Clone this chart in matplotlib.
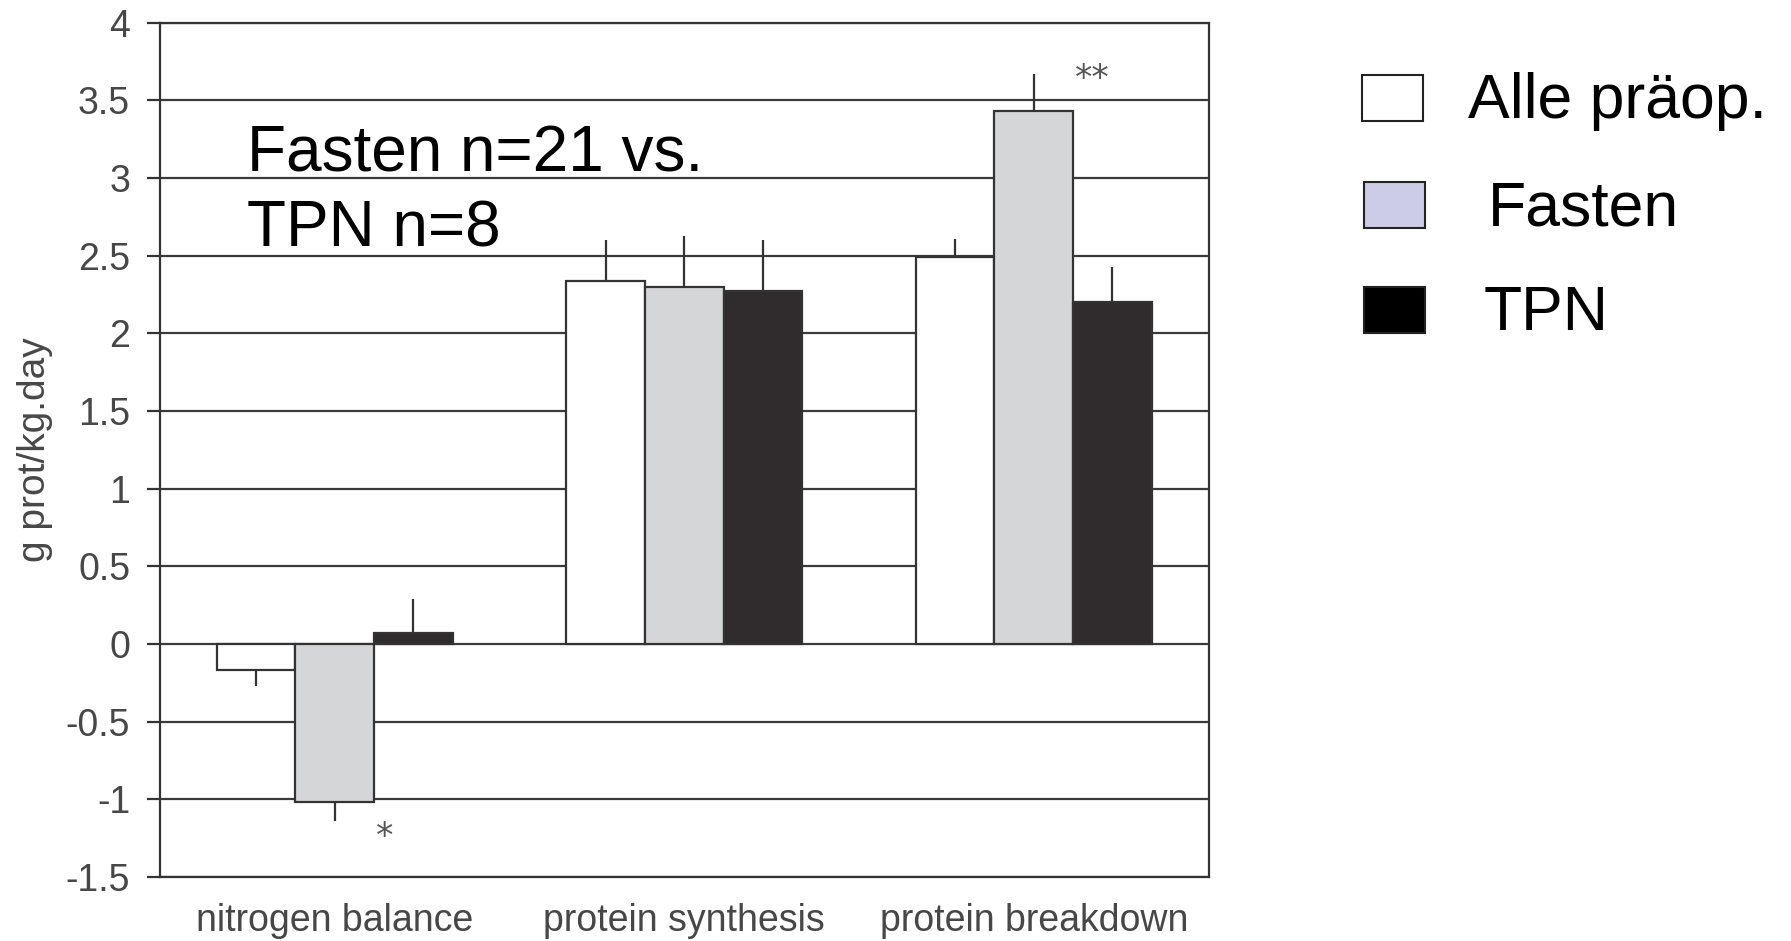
import matplotlib
matplotlib.use("Agg")
import matplotlib.pyplot as plt
import numpy as np
from matplotlib.patches import Rectangle

plt.rcParams["font.family"] = ["Liberation Sans", "DejaVu Sans"]

# ------------------------------------------------------------------ #
# Data
# ------------------------------------------------------------------ #
categories = ["nitrogen balance", "protein synthesis", "protein breakdown"]
groups = ["Alle präop.", "Fasten", "TPN"]

alle_mean = [-0.17, 2.34, 2.49]
alle_err = [0.10, 0.26, 0.12]
fasten_mean = [-1.02, 2.30, 3.43]
fasten_err = [0.12, 0.33, 0.24]
tpn_mean = [0.07, 2.27, 2.20]
tpn_err = [0.22, 0.33, 0.23]

# significance marks for the Fasten bar in each category
fasten_sig = ["*", "", "**"]

ytick_values = [-1.5, -1, -0.5, 0, 0.5, 1, 1.5, 2, 2.5, 3, 3.5, 4]
ytick_labels = ["-1.5", "-1", "-0.5", "0", "0.5", "1", "1.5", "2", "2.5", "3", "3.5", "4"]

note_lines = ["Fasten n=21 vs.", "TPN n=8"]
ylabel = "g prot/kg.day"

# ------------------------------------------------------------------ #
# Styling
# ------------------------------------------------------------------ #
bar_colors = ["#ffffff", "#d5d6d8", "#302c2d"]
legend_colors = ["#ffffff", "#cccce6", "#000000"]
edge = "#333333"
text_grey = "#474747"
W, H = 1791, 941

fig = plt.figure(figsize=(W / 100, H / 100), dpi=100)
ax = fig.add_axes([160 / W, 1 - 877 / H, 1048.5 / W, (877 - 22.8) / H])

x = np.arange(len(categories))
width = 0.225
series = [(alle_mean, alle_err), (fasten_mean, fasten_err), (tpn_mean, tpn_err)]

for k, (means, errs) in enumerate(series):
    means = np.array(means)
    errs = np.array(errs)
    xpos = x + (k - 1) * width
    ax.bar(xpos, means, width=width, color=bar_colors[k], edgecolor=edge,
           linewidth=1.6, zorder=3)
    # error bars point away from zero, no caps
    lower = np.where(means < 0, errs, 0)
    upper = np.where(means >= 0, errs, 0)
    ax.errorbar(xpos, means, yerr=[lower, upper], fmt="none", ecolor=edge,
                elinewidth=1.6, capsize=0, zorder=4)

# stars just right of the Fasten bars, at the end of the error bar
for i, mark in enumerate(fasten_sig):
    if not mark:
        continue
    m, e = fasten_mean[i], fasten_err[i]
    yy = m - e - 0.10 if m < 0 else m + e - 0.035
    ax.text(x[i] + width / 2 + 0.005, yy, mark, ha="left", va="center",
            fontsize=25, color="#555555", family="DejaVu Sans")

ax.set_xlim(-0.5, 2.5)
ax.set_ylim(-1.5, 4)
ax.set_yticks(ytick_values)
ax.set_yticklabels(ytick_labels)
ax.set_xticks(x)
ax.set_xticklabels(categories)

ax.yaxis.grid(True, color="#3a3a3a", linewidth=1.6)
ax.set_axisbelow(True)
for sp in ax.spines.values():
    sp.set_color(edge)
    sp.set_linewidth(1.6)

ax.tick_params(axis="y", length=9.5, width=1.6, color=edge, pad=12,
               labelsize=27, labelcolor=text_grey)
ax.tick_params(axis="x", length=0, pad=19, labelsize=27, labelcolor=text_grey)

ax.set_ylabel(ylabel, fontsize=28, color=text_grey)
ax.yaxis.set_label_coords(-0.102, 0.5)

# annotation inside the plot
fig.text(247 / W, 1 - 172 / H, note_lines[0], fontsize=46, va="baseline")
fig.text(247 / W, 1 - 247 / H, note_lines[1], fontsize=46, va="baseline")

# legend drawn on the figure, to the right of the axes
handle_x = [1362, 1364, 1364]
handle_top = [75, 182, 287]
text_x = [1468, 1488, 1484]
text_base = [118, 225, 330]
for k, name in enumerate(groups):
    fig.patches.append(Rectangle((handle_x[k] / W, 1 - (handle_top[k] + 46) / H),
                                 61 / W, 46 / H, transform=fig.transFigure,
                                 facecolor=legend_colors[k], edgecolor="#222222",
                                 linewidth=1.5))
    fig.text(text_x[k] / W, 1 - text_base[k] / H, name, fontsize=45, va="baseline")

fig.savefig("out.png", dpi=100)
